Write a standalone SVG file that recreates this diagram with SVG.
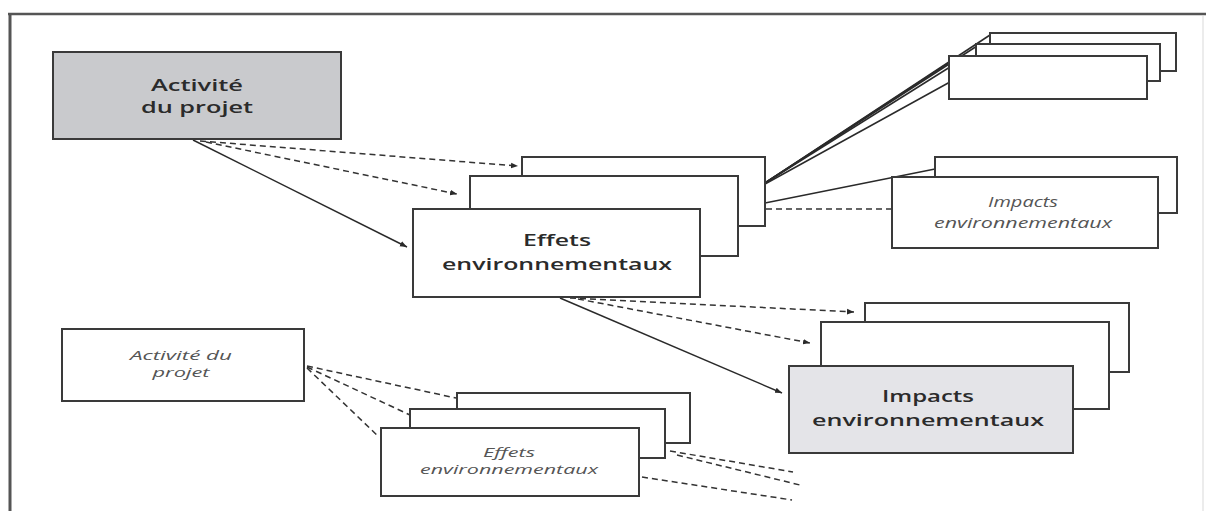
<svg xmlns="http://www.w3.org/2000/svg" width="1208" height="511" viewBox="0 0 1208 511">
<style>
.box{fill:#fff;stroke:#3a3a3a;stroke-width:2}
.gray{fill:#c9cacd;stroke:#3a3a3a;stroke-width:2}
.lgray{fill:#e4e4e8;stroke:#3a3a3a;stroke-width:2}
.ln{stroke:#2a2a2a;stroke-width:1.5;fill:none}
.dash{stroke:#333;stroke-width:1.5;fill:none;stroke-dasharray:6 4}
.b{font-family:"Open Sans","DejaVu Sans",sans-serif;font-weight:600;fill:#2b2b2b;text-anchor:middle}
.i{font-family:"Open Sans","DejaVu Sans",sans-serif;font-style:italic;fill:#555;text-anchor:middle}
</style>
<defs>
<marker id="ah" viewBox="0 0 10 10" refX="10" refY="5" markerWidth="7" markerHeight="7" markerUnits="userSpaceOnUse" orient="auto">
<path d="M0,1 L10,5 L0,9 z" fill="#2a2a2a"/>
</marker>
</defs>
<rect x="0" y="0" width="1208" height="511" fill="#fff"/>
<g id="frame">
<line x1="10" y1="14" x2="10" y2="511" stroke="#555" stroke-width="3"/>
<line x1="8" y1="14" x2="1206" y2="14" stroke="#555" stroke-width="2.5"/>
<line x1="1203" y1="16" x2="1203" y2="511" stroke="#e6e6e6" stroke-width="1.5"/>
</g>
<g id="connectors">
<line class="ln" x1="193" y1="140" x2="407" y2="247" marker-end="url(#ah)"/>
<line class="dash" x1="200" y1="141" x2="518" y2="166" marker-end="url(#ah)"/>
<line class="dash" x1="206" y1="142" x2="457" y2="194" marker-end="url(#ah)"/>
<line class="ln" x1="765" y1="183" x2="990" y2="35"/>
<line class="ln" x1="765" y1="183" x2="977" y2="46"/>
<line class="ln" x1="765" y1="183" x2="950" y2="62"/>
<line class="ln" x1="765" y1="183" x2="950" y2="67"/>
<line class="ln" x1="765" y1="184" x2="950" y2="82"/>
<line class="ln" x1="765" y1="203" x2="935" y2="169"/>
<line class="dash" x1="766" y1="209" x2="892" y2="209"/>
<line class="ln" x1="560" y1="298" x2="782" y2="393" marker-end="url(#ah)"/>
<line class="dash" x1="570" y1="298" x2="854" y2="312" marker-end="url(#ah)"/>
<line class="dash" x1="578" y1="299" x2="810" y2="343" marker-end="url(#ah)"/>
<line class="dash" x1="307" y1="366" x2="456" y2="398"/>
<line class="dash" x1="307" y1="367" x2="410" y2="415"/>
<line class="dash" x1="307" y1="368" x2="379" y2="437"/>
<line class="dash" x1="670" y1="451" x2="793" y2="472"/>
<line class="dash" x1="677" y1="455" x2="800" y2="485"/>
<line class="dash" x1="642" y1="477" x2="792" y2="500"/>
</g>
<g id="activite-projet">
<rect class="gray" x="53" y="52" width="288" height="87"/>
<text class="b" font-size="16" x="197" y="91" textLength="92" lengthAdjust="spacingAndGlyphs">Activité</text>
<text class="b" font-size="16" x="197" y="113" textLength="112" lengthAdjust="spacingAndGlyphs">du projet</text>
</g>
<g id="effets-stack">
<rect class="box" x="522" y="157" width="243" height="69"/>
<rect class="box" x="470" y="176" width="268" height="80"/>
<rect class="box" x="413" y="209" width="287" height="88"/>
<text class="b" font-size="17" x="557" y="246" textLength="68" lengthAdjust="spacingAndGlyphs">Effets</text>
<text class="b" font-size="17" x="557" y="269.5" textLength="230" lengthAdjust="spacingAndGlyphs">environnementaux</text>
</g>
<g id="topright-stack">
<rect class="box" x="990" y="33" width="186" height="38"/>
<rect class="box" x="976" y="44" width="184" height="37"/>
<rect class="box" x="949" y="56" width="198" height="43"/>
</g>
<g id="impacts-small-stack">
<rect class="box" x="935" y="157" width="242" height="56"/>
<rect class="box" x="892" y="177" width="266" height="71"/>
<text class="i" font-size="14" x="1023" y="207" textLength="70" lengthAdjust="spacingAndGlyphs">Impacts</text>
<text class="i" font-size="14" x="1023" y="228" textLength="178" lengthAdjust="spacingAndGlyphs">environnementaux</text>
</g>
<g id="impacts-stack">
<rect class="box" x="865" y="303" width="264" height="69"/>
<rect class="box" x="821" y="322" width="288" height="87"/>
<rect class="lgray" x="789" y="366" width="284" height="87"/>
<text class="b" font-size="17" x="928" y="402" textLength="92" lengthAdjust="spacingAndGlyphs">Impacts</text>
<text class="b" font-size="17" x="928" y="425.5" textLength="232" lengthAdjust="spacingAndGlyphs">environnementaux</text>
</g>
<g id="activite-small">
<rect class="box" x="62" y="329" width="242" height="72"/>
<text class="i" font-size="13" x="181" y="360" textLength="102" lengthAdjust="spacingAndGlyphs">Activité du</text>
<text class="i" font-size="13" x="181" y="377" textLength="57" lengthAdjust="spacingAndGlyphs">projet</text>
</g>
<g id="effets-small-stack">
<rect class="box" x="457" y="393" width="233" height="50"/>
<rect class="box" x="410" y="409" width="255" height="49"/>
<rect class="box" x="381" y="428" width="258" height="68"/>
<text class="i" font-size="13" x="509" y="457" textLength="52" lengthAdjust="spacingAndGlyphs">Effets</text>
<text class="i" font-size="13" x="509" y="474" textLength="178" lengthAdjust="spacingAndGlyphs">environnementaux</text>
</g>
</svg>
